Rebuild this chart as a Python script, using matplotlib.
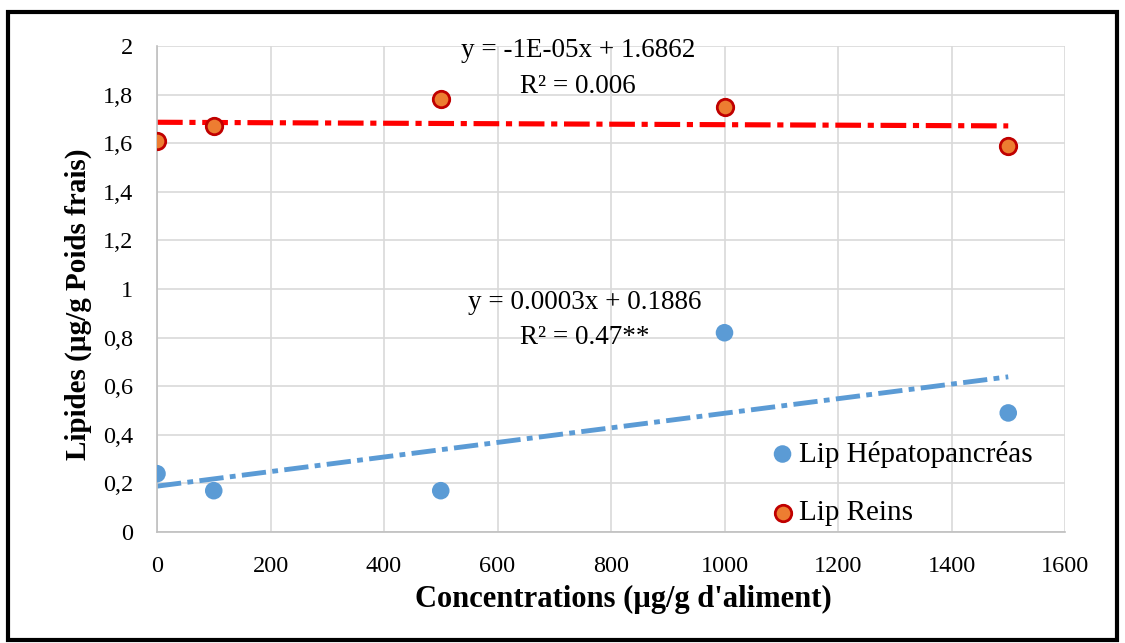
import matplotlib
matplotlib.use("Agg")
import matplotlib.pyplot as plt
from matplotlib.patches import Rectangle
import numpy as np

# concentrations in feed (µg/g)
conc = [0, 100, 500, 1000, 1500]
lip_hepato = [0.24, 0.17, 0.17, 0.82, 0.49]
lip_reins = [1.61, 1.67, 1.78, 1.75, 1.59]

# trend line coefficients as printed on the chart
hepato_slope, hepato_icpt = 0.0003, 0.1886
reins_slope, reins_icpt = -1e-05, 1.6862

eq_hepato = ["y = 0.0003x + 0.1886", "R² = 0.47**"]
eq_reins = ["y = -1E-05x + 1.6862", "R² = 0.006"]

yticks = [0, 0.2, 0.4, 0.6, 0.8, 1, 1.2, 1.4, 1.6, 1.8, 2]
ytick_labels = ["0", "0,2", "0,4", "0,6", "0,8", "1", "1,2", "1,4", "1,6", "1,8", "2"]
xticks = [0, 200, 400, 600, 800, 1000, 1200, 1400, 1600]

BLUE = "#5B9BD5"
ORANGE = "#ED7D31"
DARKRED = "#C00000"

plt.rcParams["font.family"] = ["Liberation Serif", "DejaVu Serif"]

fig = plt.figure(figsize=(11.25, 6.43), dpi=100)
ax = fig.add_axes([157 / 1125, 1 - 532 / 643, (1065 - 157) / 1125, (532 - 46) / 643])

x_line = np.array([0, 1500])
ax.plot(x_line, hepato_icpt + hepato_slope * x_line, color=BLUE, lw=3.5,
        linestyle=(0, (5, 1.3, 1.2, 1.3)), zorder=2)
ax.plot(x_line, reins_icpt + reins_slope * x_line, color="red", lw=3.7,
        linestyle=(0, (5, 1.3, 1.2, 1.3)), zorder=2)

ax.scatter(conc, lip_hepato, s=160, color=BLUE, edgecolor="none", zorder=3,
           label="Lip Hépatopancréas")
ax.scatter(conc, lip_reins, s=140, color=ORANGE, edgecolor=DARKRED, linewidth=2,
           zorder=3, label="Lip Reins")

ax.text(742, 1.98, eq_reins[0], ha="center", va="center", fontsize=19.5)
ax.text(742, 1.835, eq_reins[1], ha="center", va="center", fontsize=19.5)
ax.text(754, 0.945, eq_hepato[0], ha="center", va="center", fontsize=19.5)
ax.text(754, 0.80, eq_hepato[1], ha="center", va="center", fontsize=19.5)

ax.set_xlim(0, 1600)
ax.set_ylim(0, 2)
ax.set_xticks(xticks)
ax.set_yticks(yticks)
ax.set_yticklabels(ytick_labels)
ax.tick_params(length=0, labelsize=17.5, pad=17)
ax.grid(True, color="#D9D9D9", lw=1.2)
ax.set_axisbelow(True)
for side in ["top", "right"]:
    ax.spines[side].set_visible(False)
for side in ["left", "bottom"]:
    ax.spines[side].set_color("#BFBFBF")
    ax.spines[side].set_linewidth(1.2)

ax.set_xlabel("Concentrations (µg/g d'aliment)", fontsize=22, fontweight="bold")
ax.set_ylabel("Lipides (µg/g Poids frais)", fontsize=21, fontweight="bold")
ax.xaxis.set_label_coords(0.514, -0.108)
ax.yaxis.set_label_coords(-0.072, 0.469)

ax.legend(loc="lower left", bbox_to_anchor=(0.66, -0.012), frameon=False, fontsize=21,
          handletextpad=0.05, labelspacing=1.1, handlelength=1.0, borderaxespad=0.0)

fig.patches.append(Rectangle((8 / 1125, 0.005), 1 - 16 / 1125, 1 - 12 / 643 - 0.005,
                             transform=fig.transFigure, fill=False, edgecolor="black",
                             lw=3, zorder=10))

fig.savefig("out.png", dpi=100)
